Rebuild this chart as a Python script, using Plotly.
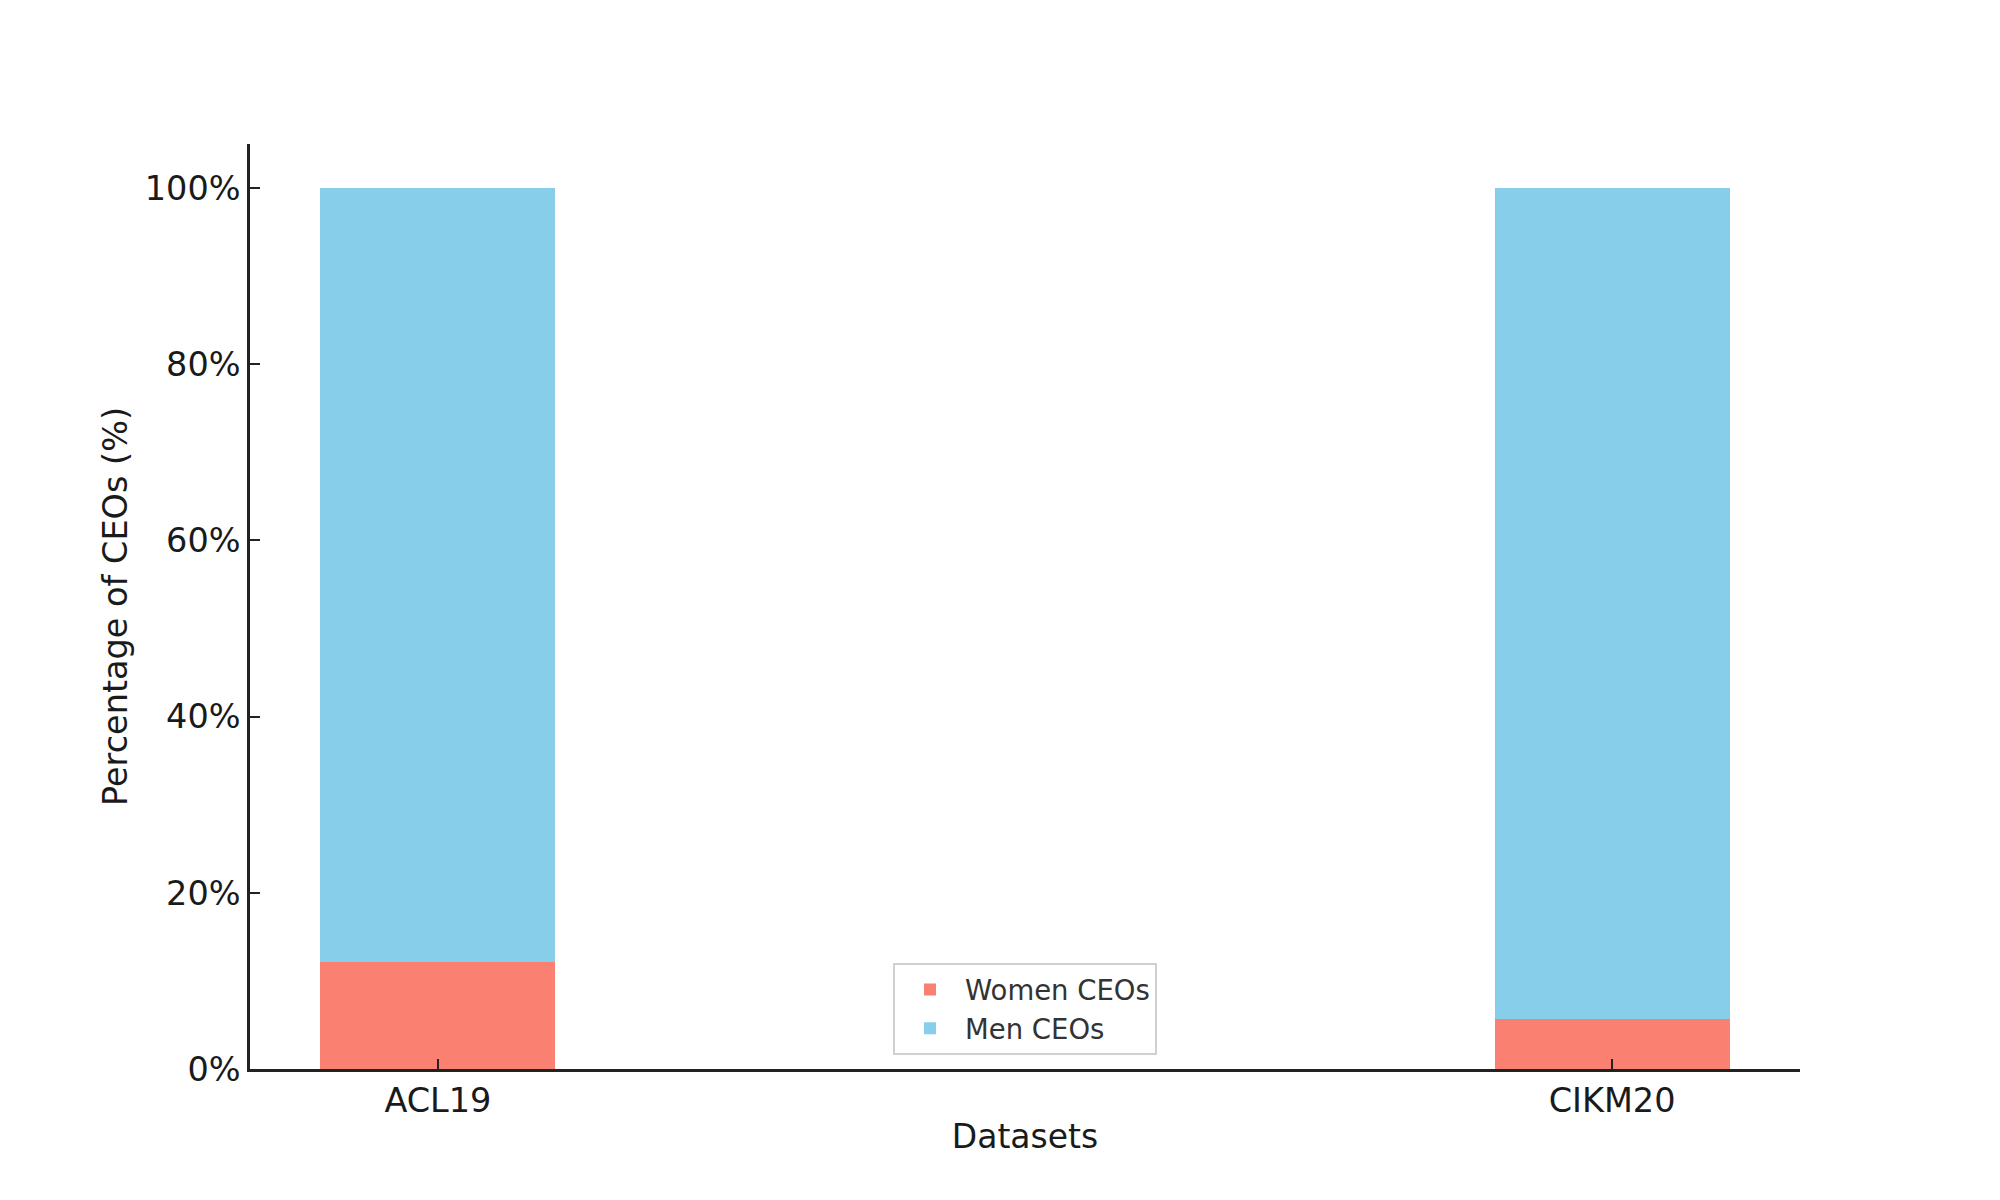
import plotly.graph_objects as go

datasets = ["ACL19", "CIKM20"]
women_pct = [12.2, 5.7]
men_pct = [87.8, 94.3]
y_ticks = [0, 20, 40, 60, 80, 100]
y_tick_labels = [f"{v}%" for v in y_ticks]

fig = go.Figure()
fig.add_trace(go.Bar(x=datasets, y=women_pct, name="Women CEOs", marker_color="#FA8072",
                     width=0.2, marker_line_width=0))
fig.add_trace(go.Bar(x=datasets, y=men_pct, name="Men CEOs", marker_color="#87CEEB",
                     width=0.2, marker_line_width=0))

fig.update_layout(
    barmode="stack",
    width=2000, height=1200,
    margin=dict(l=242, r=208, t=136, b=139),
    plot_bgcolor="white", paper_bgcolor="white",
    font=dict(family="DejaVu Sans", color="#1a1a1a", size=33),
    legend=dict(x=0.5, xanchor="center", y=0.015, yanchor="bottom",
                bordercolor="#d0d0d0", borderwidth=2, bgcolor="white",
                font=dict(size=27.5, color="#333333"), traceorder="normal",
                itemwidth=60),
    showlegend=True,
)
fig.update_xaxes(
    type="category", range=[-0.16, 1.16],
    showline=True, linecolor="#222222", linewidth=2.5,
    ticks="inside", ticklen=10, tickwidth=2, tickcolor="#222222",
    showgrid=False, zeroline=False,
    tickfont=dict(size=33.5, color="#1a1a1a"),
    title=dict(text="Datasets", font=dict(size=33), standoff=6),
)
fig.update_yaxes(
    range=[0, 105], tickmode="array", tickvals=y_ticks, ticktext=y_tick_labels,
    showline=True, linecolor="#222222", linewidth=2.5,
    ticks="inside", ticklen=10, tickwidth=2, tickcolor="#222222",
    showgrid=False, zeroline=False,
    tickfont=dict(size=33.5, color="#1a1a1a"),
    title=dict(text="Percentage of CEOs (%)", font=dict(size=33.5), standoff=8),
)

fig.write_html("out.html")
